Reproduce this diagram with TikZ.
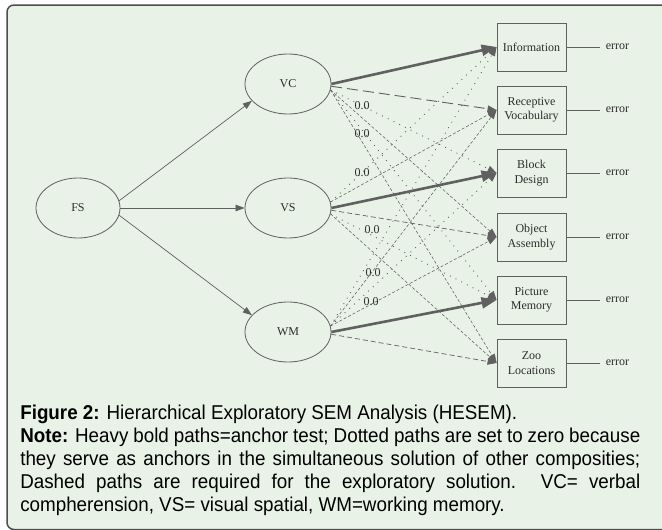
\documentclass[tikz,border=0pt]{standalone}
\usepackage{fontspec}
\setmainfont{Liberation Serif}
\newfontfamily\capfont[FakeStretch=0.94]{Liberation Sans}
\usetikzlibrary{arrows.meta}
\usetikzlibrary{shapes}
\definecolor{panel}{RGB}{232,242,231}
\definecolor{edgegray}{RGB}{96,96,96}
\definecolor{framegray}{RGB}{78,78,78}
\definecolor{inkgray}{RGB}{45,45,45}

\begin{document}
\begin{tikzpicture}[x=1pt,y=-1pt,semithick,>={Triangle[length=9pt,width=6.5pt]},
  font=\fontsize{12}{14.5}\selectfont,text=inkgray]
  \tikzstyle{latent}=[ellipse,draw=edgegray,line width=0.8pt,minimum width=86pt,minimum height=60pt,inner sep=0pt]
  \tikzstyle{test}=[rectangle,draw=edgegray,line width=0.9pt,minimum width=69pt,minimum height=48pt,align=center,inner sep=1pt]
  \tikzstyle{err}=[inner xsep=5pt,inner ysep=2pt]
  \tikzstyle{causal}=[->,draw=edgegray,line width=0.7pt]
  \tikzstyle{anchortest}=[->,draw=edgegray,line width=2.6pt,>={Triangle[length=15pt,width=11pt]}]
  \tikzstyle{zeropath}=[->,draw=edgegray,line width=0.9pt,dash pattern=on 0.9pt off 5.5pt]
  \tikzstyle{freepath}=[->,draw=edgegray,line width=0.7pt,dash pattern=on 5pt off 3pt]
  \tikzstyle{crosspath}=[->,draw=edgegray,line width=0.55pt,dash pattern=on 3pt off 2pt]
  \tikzstyle{longdash}=[->,draw=edgegray,line width=0.9pt,dash pattern=on 11pt off 5pt]
  \tikzstyle{zero}=[inner sep=1pt]

  \useasboundingbox (0,0) rectangle (662,530);
  \clip (0,0) rectangle (662,530);
  \fill[white] (0,0) rectangle (662,530);
  \draw[framegray,fill=panel,line width=1.5pt,rounded corners=7pt] (7,5) rectangle (720,529.5);

  % factors
  \node[latent,minimum width=84pt] (FS) at (78,208) {FS};
  \node[latent] (VC) at (288,84)  {VC};
  \node[latent] (VS) at (288,208) {VS};
  \node[latent] (WM) at (288,332) {WM};

  % subtests
  \node[test] (info)    at (531.5,47)  {Information};
  \node[test] (recep)   at (531.5,110) {Receptive\\Vocabulary};
  \node[test] (block)   at (531.5,173) {Block\\Design};
  \node[test] (object)  at (531.5,237) {Object\\Assembly};
  \node[test] (picture) at (531.5,300) {Picture\\Memory};
  \node[test] (zoo)     at (531.5,363) {Zoo\\Locations};

  \foreach \t in {info,recep,block,object,picture,zoo}{
    \node[err,anchor=west] (\t-err) at ([xshift=34pt]\t.east) {error};
    \draw[edgegray,line width=0.9pt] (\t) -- (\t-err);
  }

  \draw[causal] (FS.10)  -- (VC.205);
  \draw[causal] (FS.east) -- (VS);
  \draw[causal] (FS.-10) -- (WM.155);

  % zero paths
  \draw[zeropath] (VC.-8) -- node[zero,pos=0.19] {0.0} (block.west);
  \draw[zeropath] (VC.-8) -- node[zero,pos=0.19,yshift=-4pt] {0.0} (picture.west);
  \draw[zeropath] (VS.8)  -- node[zero,pos=0.19] {0.0} (info.west);
  \draw[zeropath] (VS.-8) -- node[zero,pos=0.25,yshift=6pt] {0.0} (picture.west);
  \draw[zeropath] (WM.8)  -- node[zero,pos=0.19,xshift=11pt] {0.0} (info.west);
  \draw[zeropath] (WM.8)  -- node[zero,pos=0.16,xshift=14pt] {0.0} (block.west);

  % exploratory paths
  \draw[longdash]  (VC.-3) -- (recep.west);
  \draw[crosspath] (VC.-8) -- (object.west);
  \draw[crosspath] (VC.-8) -- (zoo.west);
  \draw[crosspath] (VS.8)  -- (recep.west);
  \draw[freepath]  (VS.-3) -- (object.west);
  \draw[crosspath] (VS.-8) -- (zoo.west);
  \draw[crosspath] (WM.8)  -- (recep.west);
  \draw[crosspath] (WM.8)  -- (object.west);
  \draw[freepath]  (WM.-3) -- (zoo.west);

  % anchor tests
  \draw[anchortest] (VC.east) -- (info.west);
  \draw[anchortest] (VS.east) -- (block.west);
  \draw[anchortest] (WM.east) -- (picture.west);

  \node[anchor=north west,inner sep=0pt,text width=620pt,align=justify,text=black,
        font=\capfont\fontsize{20}{23}\selectfont] (caption) at (20,404.5)
    {\textbf{Figure 2:} Hierarchical Exploratory SEM Analysis (HESEM).\\
     \textbf{Note:} Heavy bold paths=anchor test; Dotted paths are set to zero because\linebreak
     they serve as anchors in the simultaneous solution of other composities;\linebreak
     Dashed paths are required for the exploratory solution. VC= verbal\linebreak
     compherension, VS= visual spatial, WM=working memory.};
\end{tikzpicture}
\end{document}
